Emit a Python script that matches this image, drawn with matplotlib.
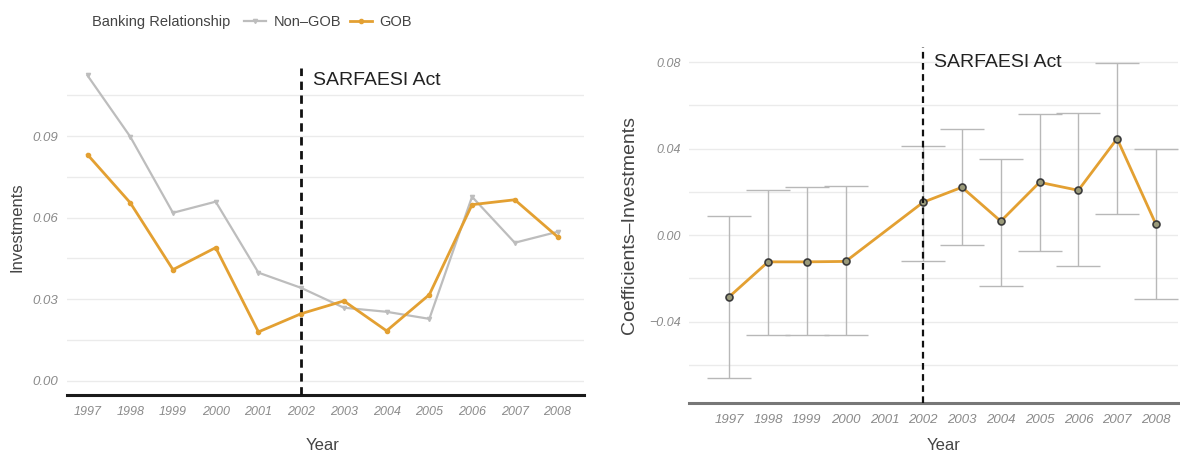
import matplotlib
matplotlib.use("Agg")
import matplotlib.pyplot as plt
from matplotlib.lines import Line2D
import numpy as np

plt.rcParams['font.family'] = ['Liberation Sans', 'DejaVu Sans']

years = [1997, 1998, 1999, 2000, 2001, 2002, 2003, 2004, 2005, 2006, 2007, 2008]
non_gob = [0.1123, 0.0898, 0.0618, 0.0659, 0.0398, 0.0342, 0.0269, 0.0254, 0.0228, 0.0677, 0.0508, 0.0548]
gob = [0.0832, 0.0655, 0.0409, 0.0490, 0.0180, 0.0247, 0.0294, 0.0184, 0.0317, 0.0648, 0.0666, 0.0530]

coef_years = [1997, 1998, 1999, 2000, 2002, 2003, 2004, 2005, 2006, 2007, 2008]
coef = [-0.0285, -0.0124, -0.0124, -0.0122, 0.0152, 0.0221, 0.0064, 0.0244, 0.0207, 0.0446, 0.0050]
ci_low = [-0.0660, -0.0464, -0.0464, -0.0464, -0.0120, -0.0046, -0.0234, -0.0074, -0.0143, 0.0097, -0.0294]
ci_high = [0.0087, 0.0207, 0.0220, 0.0225, 0.0414, 0.0492, 0.0354, 0.0561, 0.0566, 0.0795, 0.0400]

left_ticks = [0.00, 0.03, 0.06, 0.09]
left_minor = [0.015, 0.045, 0.075, 0.105]
right_ticks = [-0.04, 0.00, 0.04, 0.08]
right_minor = [-0.06, -0.02, 0.02, 0.06]
event_year = 2002
event_label = "SARFAESI Act"

ORANGE = "#E3A032"
GRAY = "#BDBDBD"
GRID = "#EBEBEB"
TICK = "#8A8A8A"

W, H = 1180, 454
fig = plt.figure(figsize=(W / 100, H / 100), dpi=100)


def px_axes(x0, x1, y_top, y_bot):
    return fig.add_axes([x0 / W, 1 - y_bot / H, (x1 - x0) / W, (y_bot - y_top) / H])


def style_axes(ax, major, minor, line_color, line_w, xsize, ysize, xpad):
    for s in ax.spines.values():
        s.set_visible(False)
    ax.set_yticks(major)
    ax.set_yticks(minor, minor=True)
    ax.set_xticks(years)
    ax.set_xticklabels([str(y) for y in years])
    ax.tick_params(axis='both', which='both', length=0)
    ax.tick_params(axis='x', labelsize=xsize, labelcolor=TICK, pad=xpad)
    ax.tick_params(axis='y', labelsize=ysize, labelcolor=TICK, pad=6)
    for lab in ax.get_xticklabels() + ax.get_yticklabels():
        lab.set_fontstyle('italic')
    ax.grid(True, axis='y', which='both', color=GRID, linewidth=1.0)
    ax.grid(False, axis='x')
    ax.set_axisbelow(True)
    ax.axhline(ax.get_ylim()[0], color=line_color, linewidth=line_w, zorder=5,
               clip_on=False)


# Left panel: mean investments by banking relationship
ax1 = px_axes(67, 584, 60, 395)
ax1.set_xlim(1997 - 0.48, 2008 + 0.62)
ax1.set_ylim(-0.0052, 0.118)
ax1.plot(years, non_gob, color=GRAY, linewidth=1.6, marker='v', markersize=3, zorder=3)
ax1.plot(years, gob, color=ORANGE, linewidth=2.0, marker='o', markersize=3, zorder=4)
ax1.axvline(event_year, ymin=0, ymax=0.976, color="#111111", linestyle=(0, (3, 2)),
            linewidth=2.0, zorder=6)
ax1.text(event_year + 0.28, 0.1105, event_label, fontsize=14, color="#222222",
         va='center', ha='left')
style_axes(ax1, left_ticks, left_minor, "#1A1A1A", 2.2, 9, 9.5, 8)
ax1.set_ylabel("Investments", fontsize=12, color="#444444", labelpad=6)
ax1.set_xlabel("Year", fontsize=12, color="#444444")
ax1.xaxis.set_label_coords(0.495, -0.128)

# Right panel: event-study coefficients with confidence intervals
ax2 = px_axes(689, 1178, 47, 403)
ax2.set_xlim(1997 - 1.04, 2008 + 0.57)
ax2.set_ylim(-0.0777, 0.087)
err_lo = np.array(coef) - np.array(ci_low)
err_hi = np.array(ci_high) - np.array(coef)
ax2.errorbar(coef_years, coef, yerr=[err_lo, err_hi], fmt='none', ecolor="#B8B8B8",
             elinewidth=1.0, capsize=16, capthick=1.0, zorder=2)
ax2.plot(coef_years, coef, color=ORANGE, linewidth=2.0, zorder=3)
ax2.plot(coef_years, coef, linestyle='none', marker='o', markersize=5,
         markerfacecolor="#9A9A7A", markeredgecolor="#3A3A3A", markeredgewidth=1.2, zorder=4)
ax2.axvline(event_year, ymin=0, ymax=1.0, color="#111111", linestyle=(0, (3, 2)),
            linewidth=1.6, zorder=6)
ax2.text(event_year + 0.28, 0.0800, event_label, fontsize=14, color="#222222",
         va='center', ha='left')
style_axes(ax2, right_ticks, right_minor, "#777777", 2.2, 9.5, 9, 8)
ax2.set_ylabel("Coefficients\u2013Investments", fontsize=14, color="#444444", labelpad=8)
ax2.set_xlabel("Year", fontsize=12, color="#444444")
ax2.xaxis.set_label_coords((944 - 689) / 489, -0.098)

# Legend row above the left panel
fig.text(92 / W, 1 - 22 / H, "Banking Relationship", fontsize=10.5, color="#444444",
         va='center', ha='left')
handles = [Line2D([], [], color=GRAY, linewidth=1.6, marker='v', markersize=3),
           Line2D([], [], color=ORANGE, linewidth=2.0, marker='o', markersize=3)]
fig.legend(handles, ["Non\u2013GOB", "GOB"], loc='center left',
           bbox_to_anchor=(237 / W, 1 - 22 / H), ncol=2, frameon=False,
           fontsize=10.5, handlelength=1.5, handletextpad=0.5, columnspacing=0.6,
           borderpad=0, labelcolor="#444444")

fig.savefig("out.png", dpi=100, facecolor='white')
